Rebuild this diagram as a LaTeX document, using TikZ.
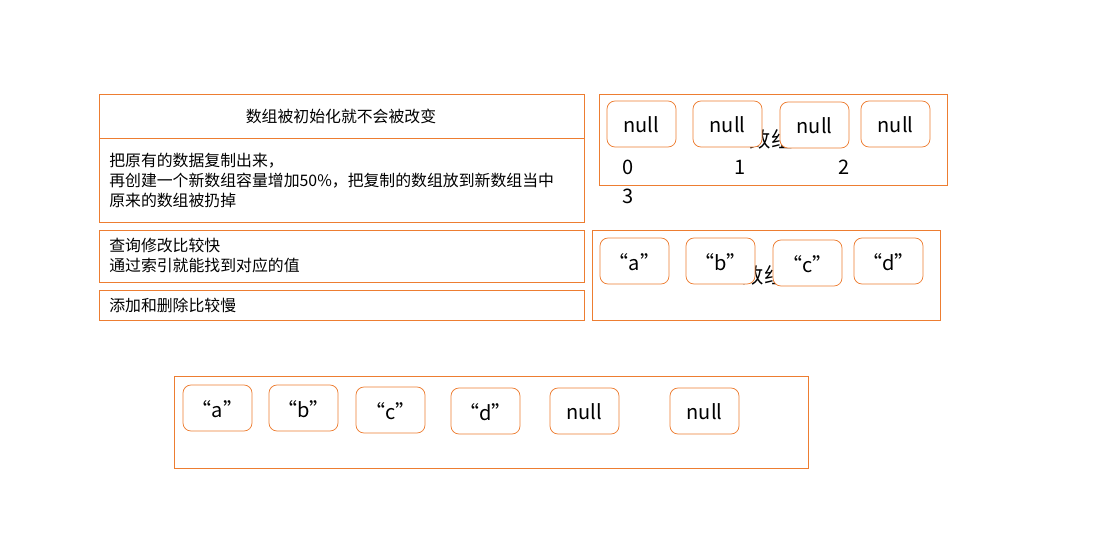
\documentclass[tikz,border=0pt]{standalone}
\usepackage{fontspec}
\setmainfont{Noto Sans CJK SC}
\definecolor{org}{HTML}{ED7D31}
\begin{document}
\begin{tikzpicture}[x=0.75pt,y=-0.75pt,
  frame/.style={draw=org,line width=0.65pt},
  cell/.style={draw=org,line width=0.55pt,rounded corners=6pt,fill=white},
  celltxt/.style={font=\fontsize{15}{18}\selectfont,inner sep=0pt},
  cn/.style={font=\fontsize{11.9}{15}\selectfont,inner sep=0pt,anchor=west,align=left},
  num/.style={font=\fontsize{15}{18}\selectfont,inner sep=0pt}]
\useasboundingbox (0,0) rectangle (1102,544);
% left boxes
\draw[frame] (99,94) rectangle (584,138);
\node[font=\fontsize{11.9}{15}\selectfont,inner sep=0pt] (t1) at (341,116) {数组被初始化就不会被改变};
\draw[frame] (99,138) rectangle (584,222);
\node[cn] (t2) at (109,180) {把原有的数据复制出来，\\再创建一个新数组容量增加50\%，把复制的数组放到新数组当中\\原来的数组被扔掉};
\draw[frame] (99,230) rectangle (584,282);
\node[cn] (t3) at (109,255) {查询修改比较快\\通过索引就能找到对应的值};
\draw[frame] (99,290) rectangle (584,320);
\node[cn] (t4) at (109,305) {添加和删除比较慢};
% right top box
\draw[frame] (599,94) rectangle (947,185);
\node[font=\fontsize{16}{18}\selectfont,inner sep=0pt] (h1) at (771,139) {数组};
\foreach \i/\xa/\ya in {1/607/101,2/693/101,3/780/102,4/861/101}{
  \draw[cell] (\xa,\ya) rectangle ++(69,46);
  \node[celltxt] (n\i) at (\xa+34.5,\ya+24) {null};
}
\node[num] (d0) at (628,167) {0};
\node[num] (d1) at (740,167) {1};
\node[num] (d2) at (844,167) {2};
\node[num] (d3) at (628,196) {3};
% right second box
\draw[frame] (592,230) rectangle (940,320);
\node[font=\fontsize{16}{18}\selectfont,inner sep=0pt] (h2) at (764,275) {数组};
\foreach \i/\xa/\ya/\t in {1/600/238/a,2/686/238/b,3/773/240/c,4/854/238/d}{
  \draw[cell] (\xa,\ya) rectangle ++(69,46);
  \node[celltxt] (s\i) at (\xa+34.5,\ya+24) {“\t”};
}
% bottom box
\draw[frame] (174,376) rectangle (808,468);
\foreach \i/\xa/\ya/\t in {1/183/385/“a”,2/269/385/“b”,3/356/387/“c”,4/451/388/“d”,5/550/388/null,6/670/388/null}{
  \draw[cell] (\xa,\ya) rectangle ++(69,46);
  \node[celltxt] (b\i) at (\xa+34.5,\ya+24) {\t};
}
\end{tikzpicture}
\end{document}
